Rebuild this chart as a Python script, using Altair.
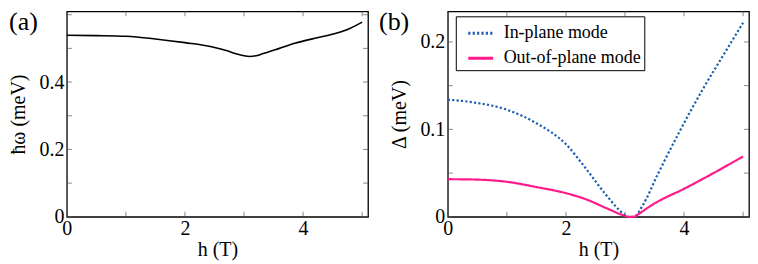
import altair as alt
import pandas as pd

# ---- data ----
h_a = [0.0, 0.5, 1.0, 1.5, 2.0, 2.45, 2.7, 2.85, 3.0, 3.1, 3.2, 3.3, 3.6, 3.86, 4.2, 4.43, 4.8, 5.0]
omega = [0.539, 0.538, 0.536, 0.528, 0.517, 0.505, 0.494, 0.485, 0.478, 0.476, 0.478, 0.483, 0.500, 0.515, 0.530, 0.539, 0.560, 0.578]

h_in = [0.0, 0.42, 1.02, 1.5, 2.0, 2.34, 2.68, 3.0, 3.05, 3.15, 3.3, 3.55, 3.92, 4.31, 4.73, 5.0]
delta_in = [0.134, 0.131, 0.122, 0.107, 0.083, 0.055, 0.025, 0.002, 0.0, 0.0, 0.013, 0.048, 0.097, 0.145, 0.192, 0.222]

h_out = [0.0, 0.5, 1.0, 1.5, 2.0, 2.34, 2.68, 3.0, 3.05, 3.15, 3.25, 3.4, 3.52, 4.0, 4.5, 5.0]
delta_out = [0.043, 0.0425, 0.040, 0.034, 0.027, 0.020, 0.010, 0.001, 0.0, 0.0, 0.004, 0.011, 0.016, 0.032, 0.050, 0.069]

x_ticks = [0, 1, 2, 3, 4, 5]
x_labels = [0, 2, 4]
ya_ticks = [0, 0.1, 0.2, 0.3, 0.4, 0.5, 0.6]
ya_labels = [0, 0.2, 0.4]
yb_ticks = [0, 0.05, 0.1, 0.15, 0.2]
yb_labels = [0, 0.1, 0.2]

modes = ["In-plane mode", "Out-of-plane mode"]
colors = ["#1f5fb0", "#ff1a8c"]

FONT = "Liberation Serif"
W, H = 302, 206
GAP = 80
XMAX = 5.1
FS = 20
lbl = "datum.value == 0 ? '0' : format(datum.value, '.1f')"


def xaxis():
    return alt.Axis(values=x_labels, title="h (T)", grid=False, domain=False, ticks=False,
                    labelFont=FONT, labelFontSize=FS, labelColor="black", labelPadding=2,
                    titleFont=FONT, titleFontSize=FS, titleFontWeight="normal", titleColor="black",
                    titlePadding=1, labelFlush=False)


def yaxis(vals, title):
    return alt.Axis(values=vals, title=title, grid=False, domain=False, ticks=False,
                    labelFont=FONT, labelFontSize=FS, labelColor="black", labelPadding=3,
                    labelExpr=lbl, labelFlush=False,
                    titleFont=FONT, titleFontSize=FS, titleFontWeight="normal", titleColor="black",
                    titlePadding=10)


def ticks_layer(xt, yt, xscale, yscale, yvals, ytitle, yfield):
    dx = pd.DataFrame({"h": xt})
    dy = pd.DataFrame({yfield: yt})
    base_x = alt.X("h:Q", scale=xscale, axis=xaxis())
    base_y = alt.Y(f"{yfield}:Q", scale=yscale, axis=yaxis(yvals, ytitle))
    kw = dict(color="#555", size=5, thickness=1)
    tb = alt.Chart(dx).mark_tick(orient="vertical", **kw).encode(x=base_x, y=alt.value(H - 2.5))
    tt = alt.Chart(dx).mark_tick(orient="vertical", **kw).encode(x=base_x, y=alt.value(2.5))
    tl = alt.Chart(dy).mark_tick(orient="horizontal", **kw).encode(y=base_y, x=alt.value(2.5))
    tr = alt.Chart(dy).mark_tick(orient="horizontal", **kw).encode(y=base_y, x=alt.value(W - 2.5))
    return [tb, tt, tl, tr]


# ---- panel (a) ----
xs_a = alt.Scale(domain=[0, XMAX], nice=False, zero=False)
ys_a = alt.Scale(domain=[0, 0.61], nice=False)
df_a = pd.DataFrame({"h": h_a, "w": omega})
line_a = alt.Chart(df_a).mark_line(color="black", strokeWidth=1.6, interpolate="monotone").encode(
    x=alt.X("h:Q", scale=xs_a, axis=xaxis()),
    y=alt.Y("w:Q", scale=ys_a, axis=yaxis(ya_labels, "ħω (meV)")),
)
lab_a = alt.Chart(pd.DataFrame({"t": ["(a)"]})).mark_text(
    font=FONT, fontSize=26, align="left", baseline="top", color="black"
).encode(text="t:N", x=alt.value(-58), y=alt.value(-2))
panel_a = alt.layer(line_a, *ticks_layer(x_ticks, ya_ticks, xs_a, ys_a, ya_labels, "ħω (meV)", "w"),
                    lab_a).properties(width=W, height=H)

# ---- panel (b) ----
xs_b = alt.Scale(domain=[0, XMAX], nice=False, zero=False)
ys_b = alt.Scale(domain=[0, 0.235], nice=False)
df_b = pd.concat([
    pd.DataFrame({"h": h_in, "d": delta_in, "mode": modes[0]}),
    pd.DataFrame({"h": h_out, "d": delta_out, "mode": modes[1]}),
])
legend = alt.Legend(title=None, orient="none", legendX=W + GAP + 8, legendY=5,
                    fillColor="white", strokeColor="black", padding=3,
                    labelFont=FONT, labelFontSize=18, labelColor="black", labelOffset=9,
                    symbolType="stroke", symbolSize=625, symbolStrokeWidth=3, rowPadding=2,
                    symbolOffset=8, cornerRadius=0)
line_b = alt.Chart(df_b).mark_line(strokeWidth=2.2, interpolate="monotone").encode(
    x=alt.X("h:Q", scale=xs_b, axis=xaxis()),
    y=alt.Y("d:Q", scale=ys_b, axis=yaxis(yb_labels, "Δ (meV)")),
    color=alt.Color("mode:N", scale=alt.Scale(domain=modes, range=colors), legend=legend),
    strokeDash=alt.StrokeDash("mode:N", scale=alt.Scale(domain=modes, range=[[2.2, 2.2], [1, 0]]), legend=legend),
)
lab_b = alt.Chart(pd.DataFrame({"t": ["(b)"]})).mark_text(
    font=FONT, fontSize=26, align="left", baseline="top", color="black"
).encode(text="t:N", x=alt.value(-69), y=alt.value(-2))
panel_b = alt.layer(line_b, *ticks_layer(x_ticks, yb_ticks, xs_b, ys_b, yb_labels, "Δ (meV)", "d"),
                    lab_b).properties(width=W, height=H)

chart = alt.hconcat(panel_a, panel_b, spacing=GAP, bounds="flush").configure(
    padding=0, background="white", font=FONT
).configure_view(stroke="black", strokeWidth=1.3).configure_axis(
    labelFont=FONT, titleFont=FONT
).configure_text(font=FONT)

chart.save("out.html", embed_options={"renderer": "svg", "actions": False})
